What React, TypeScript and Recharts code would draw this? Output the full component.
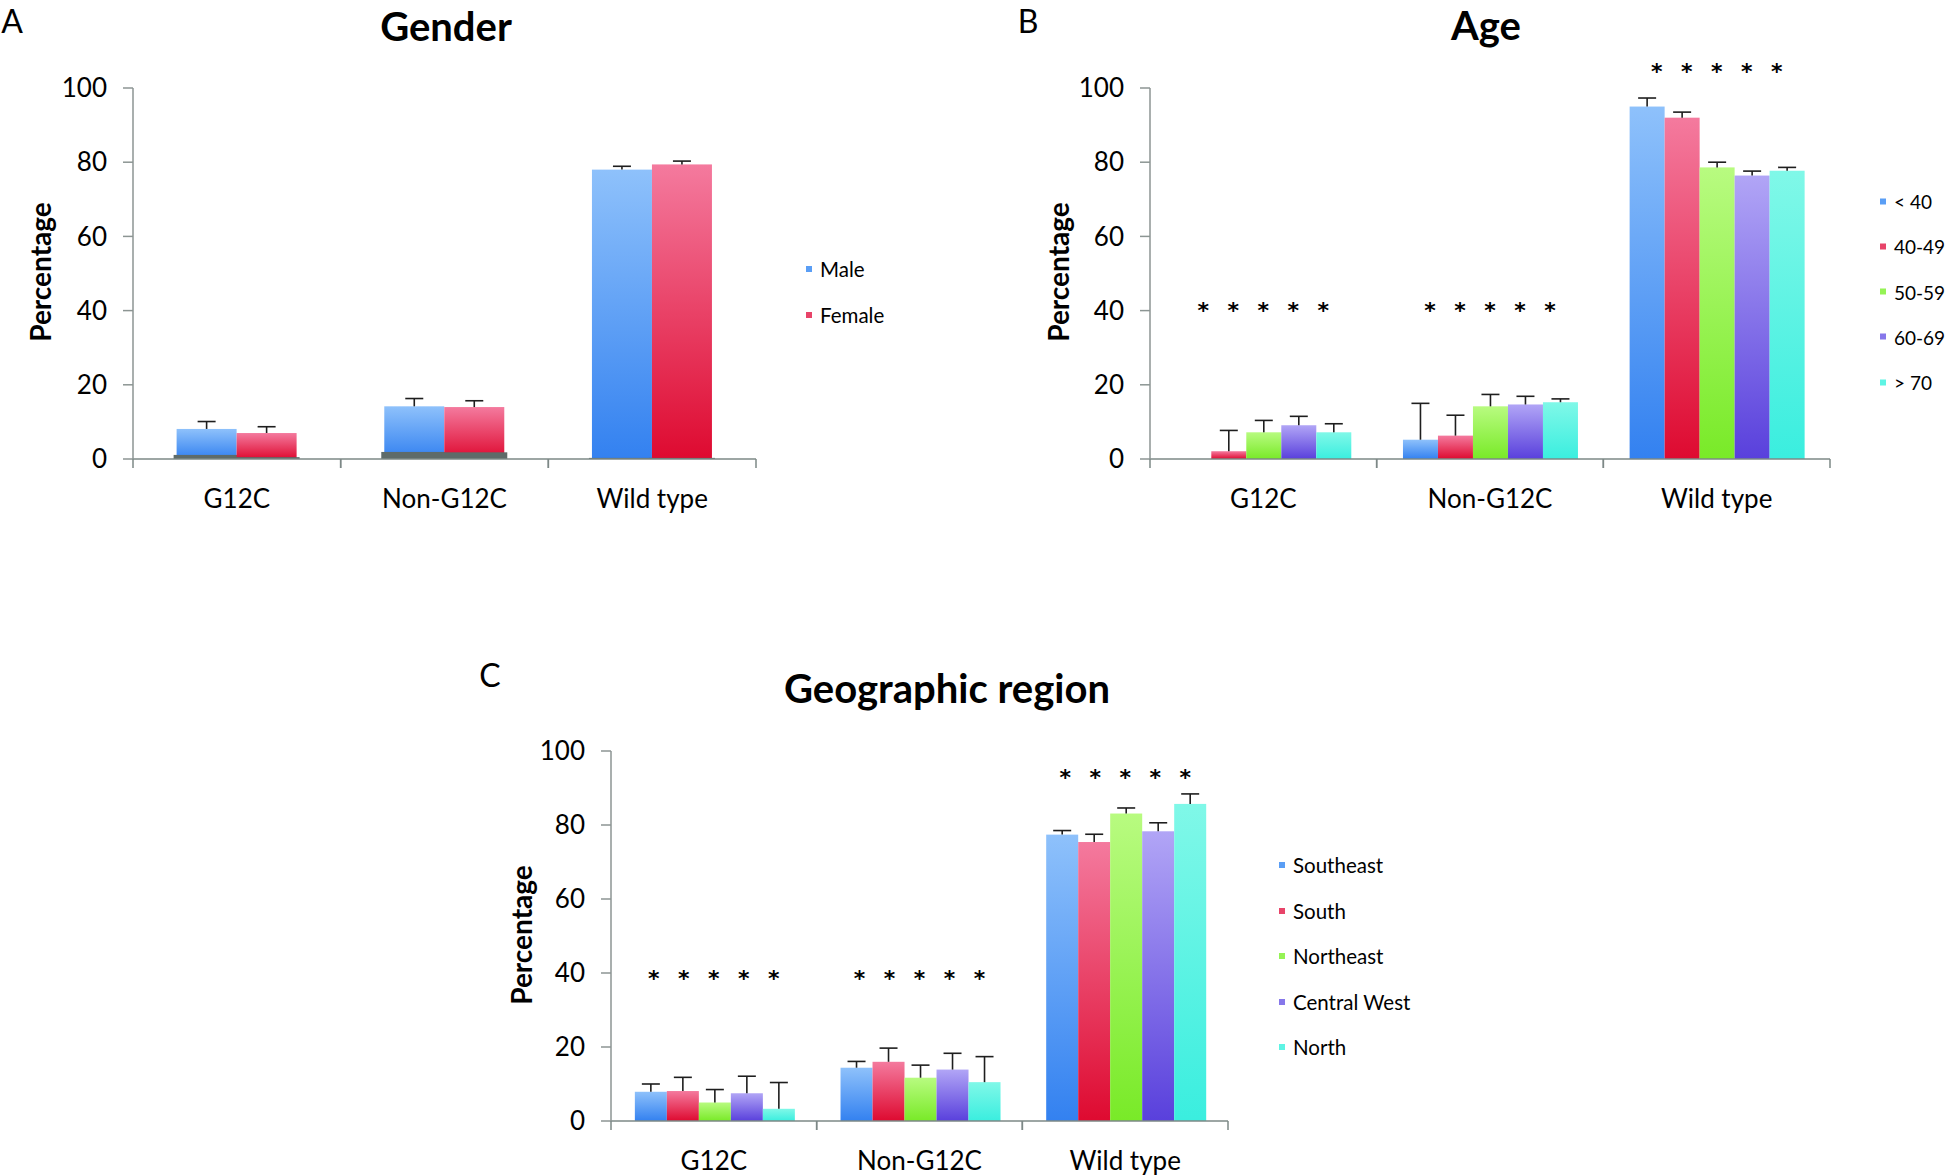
import React from 'react';
import { BarChart, Bar, XAxis, YAxis, ReferenceDot } from 'recharts';

const FONT = 'Lato, "Open Sans", sans-serif';

const categories = ['G12C', 'Non-G12C', 'Wild type'];
const yTicks = [0, 20, 40, 60, 80, 100];

// Gender panel
const genderMale = [8.1, 14.2, 78.0];
const genderMaleErr = [2.0, 2.1, 0.9];
const genderMaleBase = [1.1, 1.9, 0.3];
const genderFemale = [7.0, 14.0, 79.4];
const genderFemaleErr = [1.7, 1.7, 0.9];
const genderFemaleBase = [0.5, 1.8, 0.3];

// Age panel
const ageUnder40 = [0, 5.2, 95.0];
const ageUnder40Err = [0, 9.8, 2.3];
const age40s = [2.1, 6.3, 92.0];
const age40sErr = [5.6, 5.5, 1.5];
const age50s = [7.2, 14.2, 78.6];
const age50sErr = [3.2, 3.2, 1.4];
const age60s = [9.1, 14.7, 76.4];
const age60sErr = [2.4, 2.2, 1.2];
const ageOver70 = [7.2, 15.3, 77.7];
const ageOver70Err = [2.3, 0.9, 0.9];
const ageStars = [41.5, 41.5, 106];

// Geographic region panel
const regionSoutheast = [7.9, 14.4, 77.4];
const regionSoutheastErr = [2.1, 1.7, 1.1];
const regionSouth = [8.1, 16.0, 75.4];
const regionSouthErr = [3.7, 3.7, 2.1];
const regionNortheast = [5.0, 11.7, 83.1];
const regionNortheastErr = [3.5, 3.4, 1.5];
const regionCentralWest = [7.5, 13.9, 78.3];
const regionCentralWestErr = [4.6, 4.4, 2.3];
const regionNorth = [3.3, 10.5, 85.7];
const regionNorthErr = [7.1, 6.9, 2.7];
const regionStars = [40, 40, 94.2];

// gradient colours: [top, bottom, legend swatch]
const BLUE = ['#8ec1fb', '#3381f0', '#5a9ef5'];
const RED = ['#f47a9e', '#de0a30', '#e84469'];
const GREEN = ['#b8fb80', '#79ea28', '#95f355'];
const PURPLE = ['#b1a5f6', '#5940dc', '#8677ea'];
const CYAN = ['#80f8e8', '#3aeedf', '#5ef4e4'];

type Series = {
  key: string;
  name: string;
  values: number[];
  errors: number[];
  base?: number[];
  colors: string[];
};

const genderSeries: Series[] = [
  { key: 'male', name: 'Male', values: genderMale, errors: genderMaleErr, base: genderMaleBase, colors: BLUE },
  { key: 'female', name: 'Female', values: genderFemale, errors: genderFemaleErr, base: genderFemaleBase, colors: RED },
];

const ageSeries: Series[] = [
  { key: 'a1', name: '< 40', values: ageUnder40, errors: ageUnder40Err, colors: BLUE },
  { key: 'a2', name: '40-49', values: age40s, errors: age40sErr, colors: RED },
  { key: 'a3', name: '50-59', values: age50s, errors: age50sErr, colors: GREEN },
  { key: 'a4', name: '60-69', values: age60s, errors: age60sErr, colors: PURPLE },
  { key: 'a5', name: '> 70', values: ageOver70, errors: ageOver70Err, colors: CYAN },
];

const regionSeries: Series[] = [
  { key: 'r1', name: 'Southeast', values: regionSoutheast, errors: regionSoutheastErr, colors: BLUE },
  { key: 'r2', name: 'South', values: regionSouth, errors: regionSouthErr, colors: RED },
  { key: 'r3', name: 'Northeast', values: regionNortheast, errors: regionNortheastErr, colors: GREEN },
  { key: 'r4', name: 'Central West', values: regionCentralWest, errors: regionCentralWestErr, colors: PURPLE },
  { key: 'r5', name: 'North', values: regionNorth, errors: regionNorthErr, colors: CYAN },
];

const buildRows = (series: Series[]) =>
  categories.map((category, i) => {
    const row: any = { category };
    series.forEach((s) => {
      row[s.key] = s.values[i];
      row[s.key + 'Err'] = s.errors[i];
      if (s.base) row[s.key + 'Base'] = s.base[i];
    });
    return row;
  });

// bar with vertical gradient, upper error bar and optional dark base slab
const makeShape = (s: Series, gradId: string) => (props: any) => {
  const { x, y, width, height, payload } = props;
  const val = payload[s.key];
  if (!val || !height) return <g />;
  const perUnit = height / val;
  const err = payload[s.key + 'Err'] || 0;
  const base = payload[s.key + 'Base'] || 0;
  const cx = x + width / 2;
  const errTop = y - err * perUnit;
  return (
    <g>
      <rect x={x} y={y} width={width} height={height} fill={`url(#${gradId})`} />
      {base > 0 && (
        <rect x={x - 3} y={y + height - base * perUnit} width={width + 6} height={base * perUnit} fill="#5e6b69" />
      )}
      {err > 0 && (
        <g stroke="#1e1e1e" strokeWidth={1.6}>
          <line x1={cx} x2={cx} y1={y} y2={errTop} />
          <line x1={cx - 9} x2={cx + 9} y1={errTop} y2={errTop} />
        </g>
      )}
    </g>
  );
};

const CategoryTick = (props: any) => {
  const { x, y, payload, band } = props;
  return (
    <g>
      <line x1={x - band / 2} x2={x - band / 2} y1={y} y2={y + 9} stroke="#7d8886" strokeWidth={1.5} />
      <line x1={x + band / 2} x2={x + band / 2} y1={y} y2={y + 9} stroke="#7d8886" strokeWidth={1.5} />
      <text x={x} y={y + 39} textAnchor="middle" dominantBaseline="central" fontSize={26} fill="#000" fontFamily={FONT}>
        {payload.value}
      </text>
    </g>
  );
};

const Stars = (props: any) => {
  const { cx, cy } = props;
  return (
    <g>
      {[-2, -1, 0, 1, 2].map((k) => (
        <text
          key={k}
          x={cx + k * 30}
          y={cy + 13}
          textAnchor="middle"
          fontSize={22}
          fontWeight="bold"
          fill="#000"
          fontFamily='"DejaVu Sans", sans-serif'
        >
          *
        </text>
      ))}
    </g>
  );
};

type PanelProps = {
  id: string;
  series: Series[];
  stars?: number[];
  left: number;
  top: number;
  width: number;
  height: number;
  yAxisWidth: number;
  margin: { top: number; right: number; bottom: number; left: number };
  xAxisHeight: number;
  gap: string;
};

const Panel = ({ id, series, stars, left, top, width, height, yAxisWidth, margin, xAxisHeight, gap }: PanelProps) => {
  const data = buildRows(series);
  const band = (width - yAxisWidth - margin.left - margin.right) / categories.length;
  return (
    <div style={{ position: 'absolute', left, top }}>
      <BarChart width={width} height={height} data={data} margin={margin} barCategoryGap={gap} barGap={0}>
        <defs>
          {series.map((s) => (
            <linearGradient key={s.key} id={`${id}-${s.key}`} x1="0" y1="0" x2="0" y2="1">
              <stop offset="0%" stopColor={s.colors[0]} />
              <stop offset="100%" stopColor={s.colors[1]} />
            </linearGradient>
          ))}
        </defs>
        <XAxis
          dataKey="category"
          height={xAxisHeight}
          axisLine={{ stroke: '#7d8886', strokeWidth: 1.5 }}
          tickLine={false}
          tickSize={0}
          tickMargin={0}
          interval={0}
          tick={<CategoryTick band={band} />}
        />
        <YAxis
          width={yAxisWidth}
          domain={[0, 100]}
          ticks={yTicks}
          interval={0}
          tickSize={10}
          tickMargin={16}
          axisLine={{ stroke: '#8c9593', strokeWidth: 1.5 }}
          tickLine={{ stroke: '#8c9593', strokeWidth: 1.5 }}
          tick={{ fontSize: 26, fill: '#000', fontFamily: FONT }}
        />
        {series.map((s) => (
          <Bar
            key={s.key}
            dataKey={s.key}
            name={s.name}
            fill={s.colors[1]}
            shape={makeShape(s, `${id}-${s.key}`)}
            isAnimationActive={false}
          />
        ))}
        {stars &&
          stars.map((level, i) => (
            <ReferenceDot key={i} x={categories[i]} y={level} ifOverflow="visible" shape={<Stars />} />
          ))}
      </BarChart>
    </div>
  );
};

const Legend = ({ series, left, top, step, size }: { series: Series[]; left: number; top: number; step: number; size: number }) => (
  <div style={{ position: 'absolute', left, top }}>
    {series.map((s, i) => (
      <div
        key={s.key}
        style={{ position: 'absolute', left: 0, top: i * step, display: 'flex', alignItems: 'center', whiteSpace: 'nowrap', transform: 'translateY(-50%)' }}
      >
        <div style={{ width: 6, height: 6, background: s.colors[2], marginRight: 8 }} />
        <span style={{ fontFamily: FONT, fontSize: size, color: '#000' }}>{s.name}</span>
      </div>
    ))}
  </div>
);

const Label = ({ text, x, y, size, bold, rotate }: { text: string; x: number; y: number; size: number; bold?: boolean; rotate?: boolean }) => (
  <div
    style={{
      position: 'absolute',
      left: x,
      top: y,
      transform: `translate(-50%, -50%)${rotate ? ' rotate(-90deg)' : ''}`,
      fontFamily: FONT,
      fontSize: size,
      fontWeight: bold ? 700 : 400,
      whiteSpace: 'nowrap',
      color: '#000',
      lineHeight: 1.15,
    }}
  >
    {text}
  </div>
);

export default function App() {
  return (
    <div style={{ position: 'absolute', left: 0, top: 0, width: 1946, height: 1176, background: '#fff', overflow: 'hidden' }}>
      <Panel
        id="gender"
        series={genderSeries}
        left={0}
        top={0}
        width={780}
        height={540}
        yAxisWidth={133}
        margin={{ top: 88, right: 24, bottom: 21, left: 0 }}
        xAxisHeight={60}
        gap="21%"
      />
      <Panel
        id="age"
        series={ageSeries}
        stars={ageStars}
        left={1000}
        top={0}
        width={860}
        height={540}
        yAxisWidth={150}
        margin={{ top: 88, right: 30, bottom: 21, left: 0 }}
        xAxisHeight={60}
        gap="11.6%"
      />
      <Panel
        id="region"
        series={regionSeries}
        stars={regionStars}
        left={460}
        top={640}
        width={800}
        height={536}
        yAxisWidth={151}
        margin={{ top: 111, right: 32, bottom: 0, left: 0 }}
        xAxisHeight={55}
        gap="11.6%"
      />

      <Label text="A" x={12} y={21} size={32} />
      <Label text="B" x={1028} y={21} size={32} />
      <Label text="C" x={490} y={675} size={32} />

      <Label text="Gender" x={446} y={26} size={40} bold />
      <Label text="Age" x={1486} y={25} size={40} bold />
      <Label text="Geographic region" x={947} y={688} size={40} bold />

      <Label text="Percentage" x={40} y={272} size={28} bold rotate />
      <Label text="Percentage" x={1058} y={272} size={28} bold rotate />
      <Label text="Percentage" x={521} y={935} size={28} bold rotate />

      <Legend series={genderSeries} left={806} top={269} step={46} size={20.5} />
      <Legend series={ageSeries} left={1880} top={201} step={45.3} size={19} />
      <Legend series={regionSeries} left={1279} top={865} step={45.6} size={20.5} />
    </div>
  );
}
